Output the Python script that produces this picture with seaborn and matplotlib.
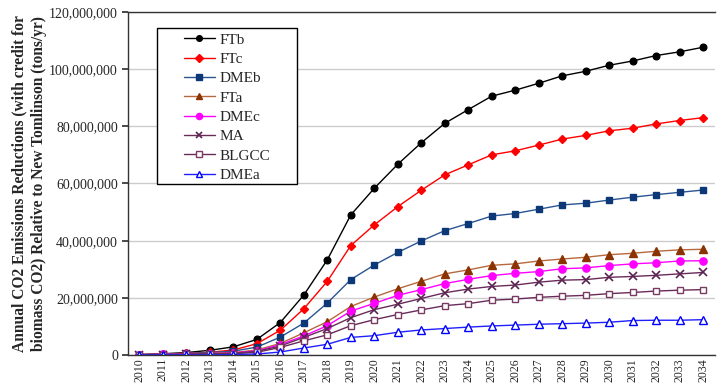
import numpy as np
import pandas as pd
import seaborn as sns
import matplotlib.pyplot as plt
from matplotlib.patches import Rectangle
from matplotlib.ticker import FuncFormatter

years = list(range(2010, 2035))

ftb = [0.2, 0.5, 0.9, 1.7, 2.9, 5.5, 11.4, 21.0, 33.3, 49.0, 58.3, 66.7, 74.2, 81.0, 85.8,
       90.5, 92.6, 95.0, 97.6, 99.2, 101.3, 102.8, 104.7, 106.0, 107.6]
ftc = [0.2, 0.4, 0.6, 1.0, 1.8, 4.0, 8.7, 16.2, 25.8, 38.3, 45.5, 51.9, 57.6, 63.0, 66.5,
       70.0, 71.4, 73.4, 75.5, 76.8, 78.4, 79.3, 80.8, 82.0, 83.0]
dmeb = [0.2, 0.4, 0.6, 0.9, 1.4, 2.8, 6.3, 11.2, 18.2, 26.4, 31.5, 35.9, 39.9, 43.5, 46.0,
        48.6, 49.5, 51.0, 52.5, 53.1, 54.2, 55.2, 56.1, 56.9, 57.7]
fta = [0.1, 0.3, 0.4, 0.6, 0.9, 1.8, 4.1, 7.8, 11.7, 17.0, 20.3, 23.2, 25.8, 28.4, 29.8,
       31.4, 31.9, 32.9, 33.6, 34.2, 35.1, 35.6, 36.3, 36.8, 37.0]
dmec = [0.1, 0.3, 0.4, 0.5, 0.8, 1.5, 3.7, 6.7, 10.3, 15.4, 18.1, 20.9, 22.9, 25.0, 26.5,
        27.8, 28.6, 29.2, 30.2, 30.5, 31.3, 31.9, 32.3, 32.9, 33.0]
ma = [0.1, 0.2, 0.3, 0.5, 0.7, 1.3, 3.2, 6.2, 9.3, 13.1, 15.9, 17.8, 19.8, 21.8, 23.1,
      24.0, 24.5, 25.5, 26.2, 26.4, 27.2, 27.5, 27.9, 28.4, 28.9]
blgcc = [0.1, 0.2, 0.3, 0.4, 0.5, 1.0, 2.7, 5.0, 7.1, 10.3, 12.4, 14.2, 15.8, 17.3, 18.0,
         19.2, 19.6, 20.2, 20.6, 20.9, 21.5, 21.9, 22.4, 22.7, 22.9]
dmea = [0.1, 0.1, 0.1, 0.1, 0.2, 0.4, 1.1, 2.5, 3.8, 6.2, 6.8, 8.0, 8.8, 9.3, 9.8,
        10.2, 10.5, 10.8, 11.0, 11.2, 11.5, 12.1, 12.2, 12.2, 12.4]

series_names = ["FTb", "FTc", "DMEb", "FTa", "DMEc", "MA", "BLGCC", "DMEa"]
series_values = [ftb, ftc, dmeb, fta, dmec, ma, blgcc, dmea]

# (line colour, marker, marker face, marker edge, marker size)
styles = {
    "FTb":   ("#000000", "o", "#000000", "#000000", 4.8),
    "FTc":   ("#ff0000", "D", "#ff0000", "#ff0000", 4.4),
    "DMEb":  ("#2a5592", "s", "#0c3878", "#0c3878", 4.8),
    "FTa":   ("#b8683c", "^", "#8b3300", "#8b3300", 5.4),
    "DMEc":  ("#ff00ff", "o", "#ff00ff", "#ff00ff", 5.2),
    "MA":    ("#6a2a5a", "x", "#5a2450", "#5a2450", 5.4),
    "BLGCC": ("#6a2a5a", "s", "white", "#7a3a62", 4.8),
    "DMEa":  ("#2020ff", "^", "white", "#0000ff", 5.4),
}

rows = []
for name, vals in zip(series_names, series_values):
    for y, v in zip(years, vals):
        rows.append({"Year": y, "Value": v * 1e6, "Series": name})
df = pd.DataFrame(rows)

sns.set_theme(style="white")
plt.rcParams["font.family"] = ["Liberation Serif", "DejaVu Serif"]

fig = plt.figure(figsize=(7.17, 3.92), dpi=100)
ax = fig.add_axes([0.178, 0.094, 0.819, 0.876])

for name in series_names:
    lc, mk, mf, me, ms = styles[name]
    sub = df[df["Series"] == name]
    sns.lineplot(data=sub, x="Year", y="Value", ax=ax, color=lc, linewidth=1.0,
                 marker=mk, markersize=ms, markerfacecolor=mf, markeredgecolor=me,
                 markeredgewidth=1.0 if mk != "x" else 1.2, label=name)

ax.set_xlim(2009.5, 2034.5)
ax.set_ylim(0, 120e6)
ax.set_yticks(np.arange(0, 120e6 + 1, 20e6))
ax.yaxis.set_major_formatter(FuncFormatter(lambda v, p: f"{int(v):,}"))
ax.set_xticks(years)
ax.set_xticklabels([str(y) for y in years], rotation=90)
ax.tick_params(axis="x", labelsize=8.5, pad=2, length=0)
ax.tick_params(axis="y", labelsize=10, pad=3, length=4, left=True, color="#333333")
ax.grid(axis="y", color="#cccccc", linewidth=1.0)
ax.set_axisbelow(True)
for sp in ax.spines.values():
    sp.set_color("#333333")
    sp.set_linewidth(1.0)
ax.spines["right"].set_visible(False)
ax.set_xlabel("")
ax.set_ylabel("Annual CO2 Emissions Reductions (with credit for\nbiomass CO2) Relative to New Tomlinson (tons/yr)",
              fontsize=11.2, fontweight="bold", linespacing=1.3)
ax.yaxis.set_label_coords(-0.138, 0.5)

# Legend box with a wide left margin
ax.add_patch(Rectangle((157 / 717, 1 - 184 / 392), 140 / 717, 156 / 392,
                       transform=fig.transFigure, facecolor="white",
                       edgecolor="black", linewidth=1.0, zorder=5, clip_on=False))
leg = ax.legend(loc="upper left", bbox_to_anchor=(184 / 717, 1 - 33 / 392),
                bbox_transform=fig.transFigure, frameon=False,
                fontsize=11, handlelength=2.0, markerscale=0.85,
                labelspacing=0.37, borderpad=0, handletextpad=0.3, borderaxespad=0)
leg.set_zorder(6)

fig.savefig("out.png", dpi=100)
